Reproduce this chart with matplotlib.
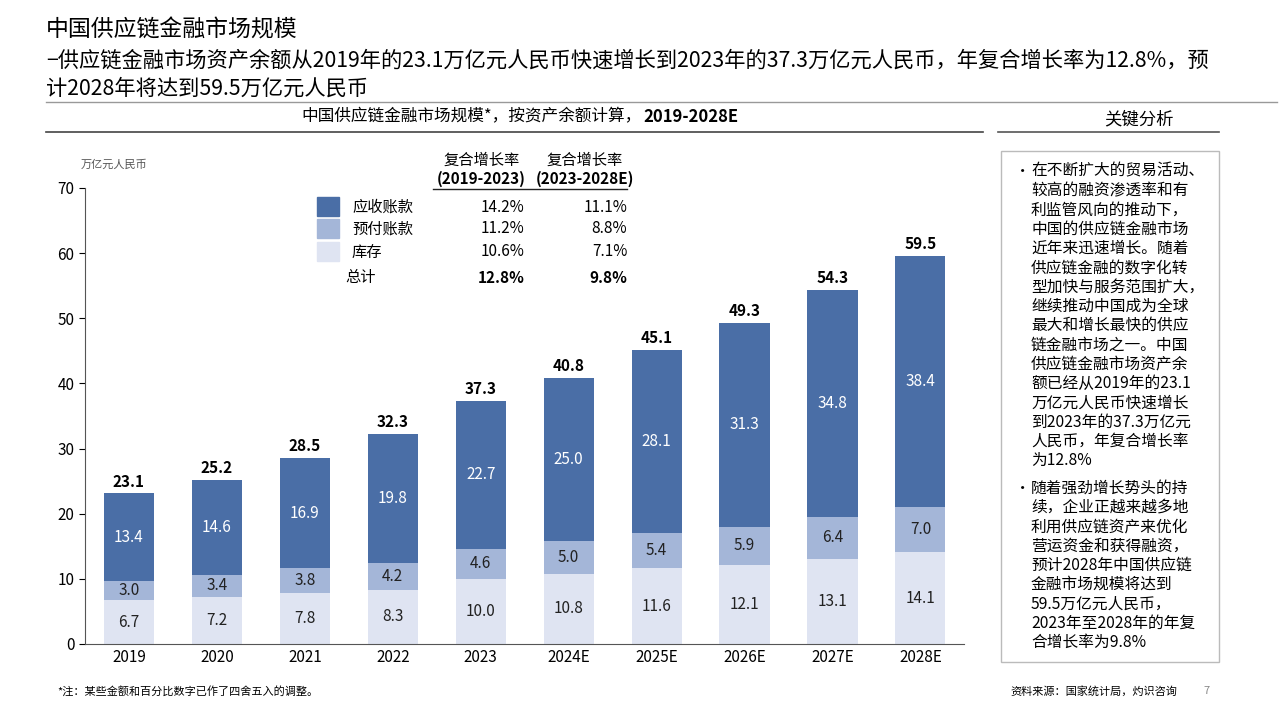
import matplotlib
matplotlib.use("Agg")
import matplotlib.pyplot as plt
from matplotlib.patches import Rectangle

plt.rcParams['font.family'] = ['Noto Sans CJK SC', 'DejaVu Sans']

years = ['2019','2020','2021','2022','2023','2024E','2025E','2026E','2027E','2028E']
inventory = [6.7,7.2,7.8,8.3,10.0,10.8,11.6,12.1,13.1,14.1]
prepaid = [3.0,3.4,3.8,4.2,4.6,5.0,5.4,5.9,6.4,7.0]
receivable = [13.4,14.6,16.9,19.8,22.7,25.0,28.1,31.3,34.8,38.4]
totals = [23.1,25.2,28.5,32.3,37.3,40.8,45.1,49.3,54.3,59.5]
series_names = ['应收账款','预付账款','库存']
cagr1 = ['14.2%','11.2%','10.6%','12.8%']
cagr2 = ['11.1%','8.8%','7.1%','9.8%']

c_dark, c_mid, c_light = '#4a6ea6', '#a4b6d8', '#dfe4f2'

fig = plt.figure(figsize=(12.8,7.2), dpi=100)
ax = fig.add_axes([0.0664, 0.1056, 0.687, 0.6334])
x = range(len(years))
w = 0.57
ax.bar(x, inventory, w, color=c_light)
ax.bar(x, prepaid, w, bottom=inventory, color=c_mid)
b3 = [a+b for a,b in zip(inventory, prepaid)]
ax.bar(x, receivable, w, bottom=b3, color=c_dark)
for i in x:
    ax.text(i, inventory[i]/2, f'{inventory[i]:.1f}', ha='center', va='center', fontsize=11, color='#222')
    ax.text(i, inventory[i]+prepaid[i]/2, f'{prepaid[i]:.1f}', ha='center', va='center', fontsize=11, color='#222')
    ax.text(i, b3[i]+receivable[i]/2, f'{receivable[i]:.1f}', ha='center', va='center', fontsize=11, color='white')
    ax.text(i, totals[i]+0.6, f'{totals[i]:.1f}', ha='center', va='bottom', fontsize=11, fontweight='bold')
ax.set_xlim(-0.5, 9.5)
ax.set_ylim(0, 70)
ax.set_yticks(range(0,71,10))
ax.set_xticks(list(x))
ax.set_xticklabels(years, fontsize=11)
ax.tick_params(axis='y', labelsize=11, length=4)
ax.tick_params(axis='x', length=0)
for s in ['top','right']:
    ax.spines[s].set_visible(False)
ax.spines['left'].set_color('#555')
ax.spines['bottom'].set_color('#555')

# titles
fig.text(0.036, 0.958, '中国供应链金融市场规模', fontsize=16.5, va='center')
fig.text(0.036, 0.916, '−供应链金融市场资产余额从2019年的23.1万亿元人民币快速增长到2023年的37.3万亿元人民币，年复合增长率为12.8%，预', fontsize=15.3, va='center')
fig.text(0.036, 0.877, '计2028年将达到59.5万亿元人民币', fontsize=15.3, va='center')
fig.add_artist(plt.Line2D([0.036, 0.998], [0.858, 0.858], color='#999', lw=1))
fig.text(0.501, 0.838, '中国供应链金融市场规模*，按资产余额计算，', fontsize=12, ha='right', va='center')
fig.text(0.503, 0.838, '2019-2028E', fontsize=12, ha='left', va='center', fontweight='bold')
fig.add_artist(plt.Line2D([0.036, 0.768], [0.817, 0.817], color='#444', lw=1.2))
fig.text(0.063, 0.772, '万亿元人民币', fontsize=8, style='italic', color='#555', va='center')

# legend table
fig.text(0.376, 0.778, '复合增长率', fontsize=11, ha='center', va='center')
fig.text(0.376, 0.751, '(2019-2023)', fontsize=11, ha='center', va='center', fontweight='bold')
fig.text(0.457, 0.778, '复合增长率', fontsize=11, ha='center', va='center')
fig.text(0.457, 0.751, '(2023-2028E)', fontsize=11, ha='center', va='center', fontweight='bold')
fig.add_artist(plt.Line2D([0.338, 0.49], [0.738, 0.738], color='#222', lw=1))
rows_y = [0.712, 0.682, 0.650, 0.614]
for i, (nm, col) in enumerate(zip(series_names, [c_dark, c_mid, c_light])):
    fig.add_artist(Rectangle((0.248, rows_y[i]-0.012), 0.017, 0.026, color=col, transform=fig.transFigure))
    fig.text(0.275, rows_y[i], nm, fontsize=11, va='center')
fig.text(0.27, rows_y[3], '总计', fontsize=11, va='center')
for i in range(4):
    fw = 'bold' if i == 3 else 'normal'
    fig.text(0.41, rows_y[i], cagr1[i], fontsize=11, ha='right', va='center', fontweight=fw)
    fig.text(0.49, rows_y[i], cagr2[i], fontsize=11, ha='right', va='center', fontweight=fw)

# right panel
fig.text(0.89, 0.834, '关键分析', fontsize=12.5, ha='center', va='center')
fig.add_artist(plt.Line2D([0.78, 0.952], [0.817, 0.817], color='#555', lw=1.2))
fig.add_artist(Rectangle((0.782, 0.08), 0.17, 0.71, fill=False, ec='#bbb', lw=1, transform=fig.transFigure))
lines1 = ['在不断扩大的贸易活动、','较高的融资渗透率和有','利监管风向的推动下，','中国的供应链金融市场','近年来迅速增长。随着','供应链金融的数字化转','型加快与服务范围扩大，','继续推动中国成为全球','最大和增长最快的供应','链金融市场之一。中国','供应链金融市场资产余','额已经从2019年的23.1','万亿元人民币快速增长','到2023年的37.3万亿元','人民币，年复合增长率','为12.8%']
lines2 = ['随着强劲增长势头的持','续，企业正越来越多地','利用供应链资产来优化','营运资金和获得融资，','预计2028年中国供应链','金融市场规模将达到','59.5万亿元人民币，','2023年至2028年的年复','合增长率为9.8%']
y0 = 0.762; dy = 0.0268
fig.text(0.793, y0, '•', fontsize=11, va='center')
for k, t in enumerate(lines1):
    fig.text(0.8055, y0 - k*dy, t, fontsize=11.3, va='center')
y1 = 0.322
fig.text(0.793, y1, '•', fontsize=11, va='center')
for k, t in enumerate(lines2):
    fig.text(0.8055, y1 - k*dy, t, fontsize=11.3, va='center')

fig.text(0.045, 0.04, '*注：某些金额和百分比数字已作了四舍五入的调整。', fontsize=8, style='italic', va='center')
fig.text(0.92, 0.04, '资料来源：国家统计局，灼识咨询', fontsize=8, style='italic', ha='right', va='center')
fig.text(0.94, 0.04, '7', fontsize=8, color='#888', va='center')

fig.savefig('out.png', dpi=100)
